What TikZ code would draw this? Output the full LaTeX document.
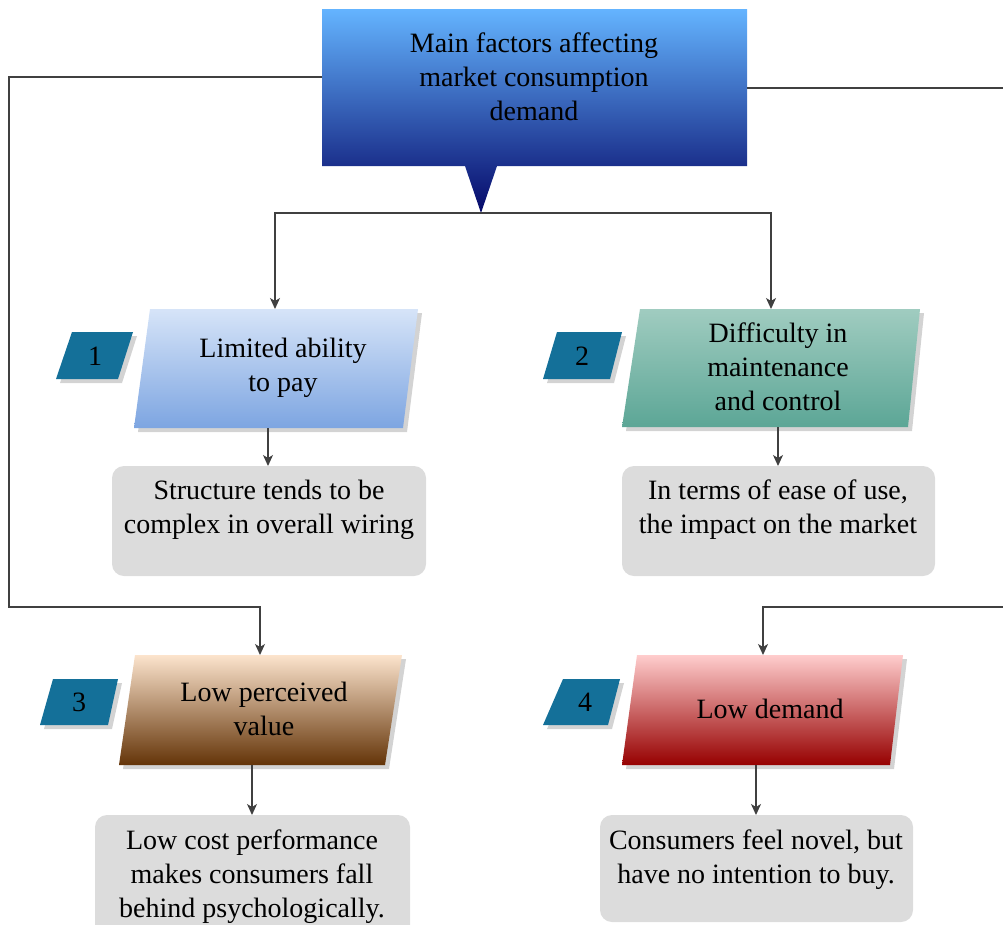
\documentclass[tikz,border=0pt]{standalone}
\usepackage{fontspec}
\setmainfont{Liberation Serif}
\usetikzlibrary{shadows,arrows.meta}
\definecolor{calltop}{RGB}{100,180,255}
\definecolor{callbot}{RGB}{5,8,105}
\definecolor{bonetop}{RGB}{214,228,248}
\definecolor{bonebot}{RGB}{125,165,225}
\definecolor{btwotop}{RGB}{160,204,192}
\definecolor{btwobot}{RGB}{92,166,150}
\definecolor{bthreetop}{RGB}{252,228,205}
\definecolor{bthreebot}{RGB}{100,52,8}
\definecolor{bfourtop}{RGB}{255,205,205}
\definecolor{bfourbot}{RGB}{150,0,0}
\definecolor{numblue}{RGB}{20,112,153}
\definecolor{boxgrey}{RGB}{220,220,220}
\tikzset{
  conn/.style={draw=black!75, line width=1.3pt},
  arr/.style={conn, -{Stealth[length=11pt,width=10pt,inset=3pt]}},
  shad/.style={drop shadow={shadow xshift=4pt, shadow yshift=-4pt, opacity=0.35}},
  txt/.style={align=center, font=\fontsize{28}{34}\selectfont, text=black, inner sep=0pt},
  gbox/.style={fill=boxgrey, rounded corners=12pt},
  numbox/.style={fill=numblue, shad},
}
\begin{document}
\begin{tikzpicture}[x=1pt,y=-1pt]
\useasboundingbox (0,0) rectangle (1003,924);
% callout
\path[top color=calltop, bottom color=callbot] (322,9) -- (747,9) -- (747,166) -- (497,166) -- (481,213) -- (465,166) -- (322,166) -- cycle;
\node[txt] (main) at (534,77) {Main factors affecting\\market consumption\\demand};
\coordinate (apex) at (481,213);
\coordinate (mainL) at (322,77);
\coordinate (mainR) at (747,88);
% parallelograms
\path[shad, top color=bonetop, bottom color=bonebot] (150,309) -- (418,309) -- (403,428) -- (134,428) -- cycle;
\path[shad, top color=btwotop, bottom color=btwobot] (640,309) -- (920,309) -- (908,427) -- (622,427) -- cycle;
\path[shad, top color=bthreetop, bottom color=bthreebot] (135,655) -- (402,655) -- (385,765) -- (119,765) -- cycle;
\path[shad, top color=bfourtop, bottom color=bfourbot] (637,655) -- (903,655) -- (890,765) -- (622,765) -- cycle;
\node[txt] (b1) at (283,368) {Limited ability\\to pay};
\node[txt] (b2) at (778,367) {Difficulty in\\maintenance\\and control};
\node[txt] (b3) at (264,709) {Low perceived\\value};
\node[txt] (b4) at (770,709) {Low demand};
% number tags
\path[numbox] (72,332) -- (133,332) -- (118,379) -- (56,379) -- cycle;
\path[numbox] (557,332) -- (622,332) -- (610,379) -- (543,379) -- cycle;
\path[numbox] (53,679) -- (118,679) -- (108,725) -- (40,725) -- cycle;
\path[numbox] (563,679) -- (620,679) -- (608,725) -- (543,725) -- cycle;
\node[txt] (n1) at (95,356) {1};
\node[txt] (n2) at (582,356) {2};
\node[txt] (n3) at (79,702) {3};
\node[txt] (n4) at (585,702) {4};
% grey boxes
\path[gbox] (112,466) rectangle (426,576);
\path[gbox] (622,466) rectangle (935,576);
\path[gbox] (95,815) rectangle (410,940);
\path[gbox] (600,815) rectangle (913,922);
\node[txt] (g1) at (269,510) {Structure tends to be\\complex in overall wiring};
\node[txt] (g2) at (778,510) {In terms of ease of use,\\the impact on the market};
\node[txt] (g3) at (252,877) {Low cost performance\\makes consumers fall\\behind psychologically.};
\node[txt] (g4) at (756,860) {Consumers feel novel, but\\have no intention to buy.};
% connector points
\coordinate (b1in) at (275,309);
\coordinate (b2in) at (771,309);
\coordinate (b1out) at (268,428);
\coordinate (g1in) at (268,466);
\coordinate (b2out) at (778,427);
\coordinate (g2in) at (778,466);
\coordinate (b3out) at (252,765);
\coordinate (g3in) at (252,815);
\coordinate (b4out) at (756,765);
\coordinate (g4in) at (756,815);
\coordinate (b3in) at (260,655);
\coordinate (b4in) at (763,655);
\coordinate (lA) at (9,77);
\coordinate (lB) at (9,607);
\coordinate (lC) at (260,607);
\coordinate (rA) at (1012,88);
\coordinate (rB) at (1012,607);
\coordinate (rC) at (763,607);
% connectors
\draw[arr] (apex) -| (b1in);
\draw[arr] (apex) -| (b2in);
\draw[arr] (b1out) -- (g1in);
\draw[arr] (b2out) -- (g2in);
\draw[arr] (b3out) -- (g3in);
\draw[arr] (b4out) -- (g4in);
\draw[arr] (mainL) -- (lA) -- (lB) -- (lC) -- (b3in);
\draw[arr] (mainR) -- (rA) -- (rB) -- (rC) -- (b4in);
\end{tikzpicture}
\end{document}
